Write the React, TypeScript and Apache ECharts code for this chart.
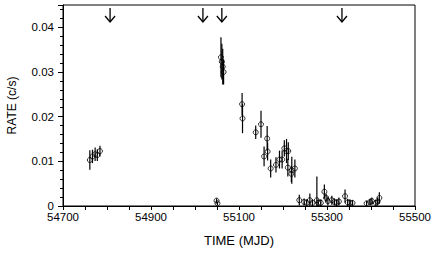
import React, { useEffect, useRef } from "react";
import * as echarts from "echarts";

const mjd = [
  54761, 54767, 54773, 54778, 54784,
  55049, 55051,
  55059, 55061, 55063, 55065,
  55107, 55108,
  55138, 55150, 55157, 55164, 55165, 55172, 55184, 55192, 55198, 55203, 55208, 55211, 55212, 55219, 55220, 55227,
  55237, 55248, 55254, 55261, 55267, 55277, 55280, 55286, 55294, 55298, 55302, 55311, 55317, 55322, 55327, 55341, 55347, 55352, 55358, 55390, 55398, 55402, 55411, 55415, 55419,
];
const rate = [
  0.0103, 0.0111, 0.0116, 0.0114, 0.0123,
  0.0012, 0.0006,
  0.0333, 0.0323, 0.0312, 0.03,
  0.0228, 0.0196,
  0.0165, 0.0183, 0.0111, 0.0151, 0.0122, 0.0084, 0.0092, 0.0104, 0.0104, 0.0129, 0.0123, 0.0086, 0.0123, 0.0072, 0.008, 0.0084,
  0.0013, 0.0009, 0.0007, 0.0013, 0.0007, 0.0013, 0.0007, 0.0007, 0.0032, 0.0018, 0.0011, 0.0013, 0.0009, 0.0007, 0.001, 0.0022, 0.0008, 0.0007, 0.0007, 0.0006, 0.0009, 0.0011, 0.0007, 0.001, 0.0018,
];
const rateErr = [
  0.0022, 0.0015, 0.0015, 0.0013, 0.0012,
  0.0005, 0.0004,
  0.0045, 0.004, 0.004, 0.0028,
  0.0025, 0.0033,
  0.0015, 0.003, 0.0022, 0.0028, 0.002, 0.002, 0.0017, 0.002, 0.002, 0.0018, 0.0027, 0.002, 0.002, 0.0018, 0.003, 0.002,
  0.0012, 0.0008, 0.0008, 0.0015, 0.0008, 0.0053, 0.0008, 0.0008, 0.0016, 0.001, 0.001, 0.001, 0.0008, 0.0008, 0.0009, 0.0015, 0.0008, 0.0008, 0.0006, 0.0005, 0.0008, 0.0008, 0.0007, 0.0009, 0.0013,
];
const arrowMjd = [54807, 55018, 55061, 55334];
const xLabelTicks = [54700, 54900, 55100, 55300, 55500];

const FONT = "'Liberation Sans', Arial, sans-serif";

export default function App() {
  const ref = useRef<HTMLDivElement>(null);
  useEffect(() => {
    if (!ref.current) return;
    const chart = echarts.init(ref.current, undefined, { renderer: "svg" });
    const points = mjd.map((m, i) => [m, rate[i], rateErr[i]]);
    chart.setOption({
      animation: false,
      backgroundColor: "#fff",
      grid: {
        left: 63,
        right: 21,
        top: 5,
        bottom: 49,
        outerBoundsMode: "none",
        containLabel: false,
        show: true,
        borderColor: "#000",
        borderWidth: 1,
        backgroundColor: "transparent",
      },
      xAxis: {
        type: "value",
        min: 54700,
        max: 55500,
        interval: 50,
        name: "TIME (MJD)",
        nameLocation: "middle",
        nameGap: 28,
        nameTextStyle: { color: "#000", fontFamily: FONT, fontSize: 13 },
        axisLine: { show: true, lineStyle: { color: "#000", width: 1 } },
        axisTick: { show: true, length: 4, inside: false, lineStyle: { color: "#000" } },
        axisLabel: {
          interval: 0,
          color: "#000",
          fontFamily: FONT,
          fontSize: 11.5,
          margin: 5,
          formatter: (v: number) => (xLabelTicks.includes(Math.round(v)) ? String(Math.round(v)) : ""),
        },
        splitLine: { show: false },
      },
      yAxis: {
        type: "value",
        min: 0,
        max: 0.045,
        interval: 0.01,
        name: "RATE (c/s)",
        nameLocation: "middle",
        nameGap: 45,
        nameTextStyle: { color: "#000", fontFamily: FONT, fontSize: 12 },
        axisLine: { show: true, lineStyle: { color: "#000", width: 1 } },
        axisTick: { show: true, length: 5, lineStyle: { color: "#000" } },
        minorTick: { show: true, splitNumber: 5, length: 3, lineStyle: { color: "#000" } },
        axisLabel: {
          color: "#000",
          fontFamily: FONT,
          fontSize: 11.5,
          margin: 9,
          showMaxLabel: false,
          formatter: (v: number) => (v === 0 ? "0" : v.toFixed(2)),
        },
        splitLine: { show: false },
      },
      series: [
        {
          type: "custom",
          data: points,
          z: 2,
          renderItem: (params: any, api: any) => {
            const x = api.value(0);
            const v = api.value(1);
            const e = api.value(2);
            const p1 = api.coord([x, v + e]);
            const p2 = api.coord([x, Math.max(0, v - e)]);
            return {
              type: "line",
              shape: { x1: p1[0], y1: p1[1], x2: p2[0], y2: p2[1] },
              style: { stroke: "#000", lineWidth: 1.2 },
            };
          },
        },
        {
          type: "scatter",
          data: points.map((p) => [p[0], p[1]]),
          symbol: "circle",
          symbolSize: 5,
          z: 3,
          itemStyle: { color: "rgba(255,255,255,0)", borderColor: "#000", borderWidth: 1 },
        },
        {
          type: "custom",
          data: arrowMjd.map((m) => [m, 0]),
          z: 4,
          renderItem: (params: any, api: any) => {
            const x = api.coord([api.value(0), 0])[0];
            const top = params.coordSys.y;
            const y1 = top + 3;
            const y2 = top + 17;
            const style = { stroke: "#000", lineWidth: 1.3, fill: "none" };
            return {
              type: "group",
              children: [
                { type: "line", shape: { x1: x, y1, x2: x, y2 }, style },
                {
                  type: "polyline",
                  shape: { points: [[x - 5, y2 - 6], [x, y2], [x + 5, y2 - 6]] },
                  style,
                },
              ],
            };
          },
        },
      ],
    });
    return () => chart.dispose();
  }, []);
  return (
    <div
      ref={ref}
      style={{ position: "fixed", left: 0, top: 0, width: 436, height: 255, background: "#fff" }}
    />
  );
}
